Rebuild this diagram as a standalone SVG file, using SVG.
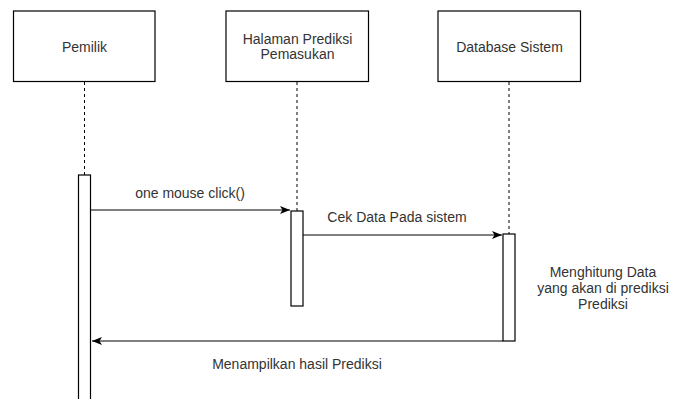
<svg xmlns="http://www.w3.org/2000/svg" width="675" height="399" viewBox="0 0 675 399">
<style>
.box{fill:#fff;stroke:#000;stroke-width:1.2}
.life{stroke:#000;stroke-width:1;stroke-dasharray:3 3;fill:none}
.act{fill:#fff;stroke:#000;stroke-width:1.2}
.msg{stroke:#000;stroke-width:1.2;fill:none}
text{font-family:"Liberation Sans",Arial,sans-serif;font-size:14px;fill:#333;text-anchor:middle}
</style>
<defs>
<marker id="ah" viewBox="0 0 10 10" refX="10" refY="5" markerWidth="10" markerHeight="10" markerUnits="userSpaceOnUse" orient="auto">
<path d="M0,1 L10,5 L0,9 L2.5,5 Z" fill="#000"/>
</marker>
</defs>
<rect width="675" height="399" fill="#fff"/>
<g id="lifelines">
<line class="life" x1="84.5" y1="82" x2="84.5" y2="175"/>
<line class="life" x1="297" y1="82" x2="297" y2="211"/>
<line class="life" x1="509" y1="82" x2="509" y2="234"/>
</g>
<g id="pemilik">
<rect class="box" x="13.5" y="11" width="141.5" height="70.5"/>
<text x="84.5" y="52">Pemilik</text>
<rect class="act" x="78.5" y="175" width="12" height="230"/>
</g>
<g id="halaman">
<rect class="box" x="226" y="11" width="142.5" height="70.5"/>
<text x="297.5" y="43.5">Halaman Prediksi</text>
<text x="297.5" y="59">Pemasukan</text>
<rect class="act" x="291" y="211" width="12" height="95"/>
</g>
<g id="database">
<rect class="box" x="438" y="11" width="142.5" height="70.5"/>
<text x="509.5" y="52">Database Sistem</text>
<rect class="act" x="503" y="234" width="12" height="107"/>
</g>
<g id="connectors">
<line class="msg" x1="90.5" y1="210" x2="290" y2="210" marker-end="url(#ah)"/>
<line class="msg" x1="303" y1="235" x2="502" y2="235" marker-end="url(#ah)"/>
<line class="msg" x1="503" y1="341" x2="92" y2="341" marker-end="url(#ah)"/>
</g>
<g id="labels">
<text x="190" y="198">one mouse click()</text>
<text x="397" y="222">Cek Data Pada sistem</text>
<text x="603" y="277">Menghitung Data</text>
<text x="603" y="293">yang akan di prediksi</text>
<text x="603" y="309">Prediksi</text>
<text x="297" y="369">Menampilkan hasil Prediksi</text>
</g>
</svg>
